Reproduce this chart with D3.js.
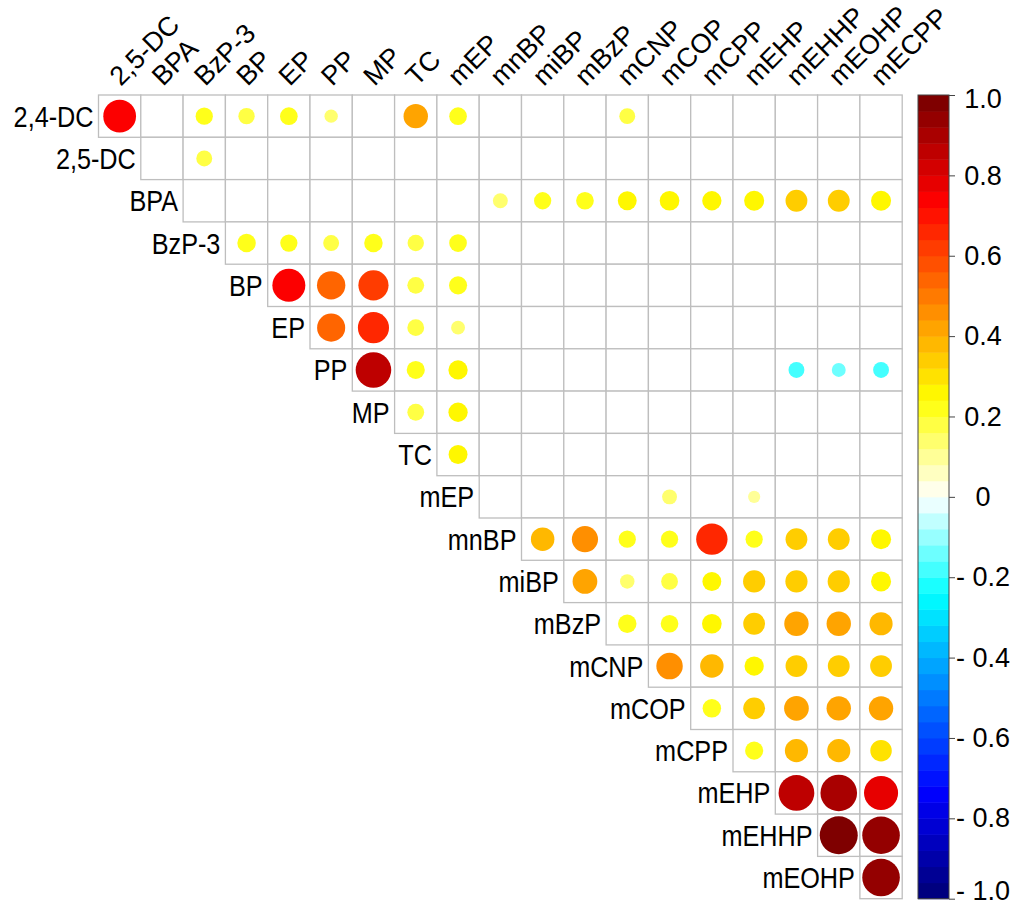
<!DOCTYPE html>
<html>
<head>
<meta charset="utf-8">
<script src="https://cdn.jsdelivr.net/npm/d3@7"></script>
<style>
  body { margin: 0; background: #fff; }
  text { font-family: "Liberation Sans", Arial, sans-serif; fill: #000; }
</style>
</head>
<body>
<div id="chart"></div>
<script>
// variables, in matrix order
var vars = ["2,4-DC", "2,5-DC", "BPA", "BzP-3", "BP", "EP", "PP", "MP", "TC", "mEP",
            "mnBP", "miBP", "mBzP", "mCNP", "mCOP", "mCPP", "mEHP", "mEHHP", "mEOHP", "mECPP"];

// upper triangle, row by row (columns after the diagonal); null = blank (not significant)
var corrRows = [
  [0.72, null, 0.20, 0.18, 0.21, 0.12, null, 0.40, 0.21, null, null, null, 0.17, null, null, null, null, null, null],
  [null, 0.17, null, null, null, null, null, null, null, null, null, null, null, null, null, null, null, null],
  [null, null, null, null, null, null, null, 0.15, 0.20, 0.21, 0.24, 0.26, 0.25, 0.27, 0.32, 0.32, 0.27],
  [0.23, 0.20, 0.17, 0.23, 0.18, 0.21, null, null, null, null, null, null, null, null, null, null],
  [0.73, 0.54, 0.61, 0.19, 0.22, null, null, null, null, null, null, null, null, null, null],
  [0.53, 0.65, 0.19, 0.13, null, null, null, null, null, null, null, null, null, null],
  [0.85, 0.22, 0.25, null, null, null, null, null, null, null, -0.17, -0.13, -0.17],
  [0.19, 0.25, null, null, null, null, null, null, null, null, null, null],
  [0.24, null, null, null, null, null, null, null, null, null, null],
  [null, null, null, null, 0.15, null, 0.10, null, null, null],
  [0.37, 0.46, 0.20, 0.20, 0.66, 0.20, 0.32, 0.32, 0.27],
  [0.41, 0.14, 0.19, 0.24, 0.33, 0.33, 0.33, 0.27],
  [0.23, 0.21, 0.26, 0.32, 0.40, 0.40, 0.36],
  [0.47, 0.37, 0.25, 0.32, 0.32, 0.32],
  [0.23, 0.32, 0.41, 0.40, 0.40],
  [0.22, 0.36, 0.36, 0.31],
  [0.86, 0.90, 0.78],
  [0.97, 0.95],
  [0.95]
];

var legendTicks = [1, 0.8, 0.6, 0.4, 0.2, 0, -0.2, -0.4, -0.6, -0.8, -1];
var paletteStops = ["#00007F", "blue", "#007FFF", "cyan", "white", "yellow", "#FF7F00", "red", "#7F0000"];
var nBins = 50;

var w = 1016, h = 909;
var gridLeft = 98.5, gridTop = 95, cell = 42.3;
var n = vars.length - 1;

var rowVars = vars.slice(0, n);
var colVars = vars.slice(1);

var svg = d3.select("#chart").append("svg")
  .attr("width", w)
  .attr("height", h);

var x = d3.scaleBand().domain(colVars).range([gridLeft, gridLeft + n * cell]);
var y = d3.scaleBand().domain(rowVars).range([gridTop, gridTop + n * cell]);

var ramp = d3.scaleLinear()
  .domain(d3.range(paletteStops.length).map(function(i) { return -1 + 2 * i / (paletteStops.length - 1); }))
  .range(paletteStops)
  .interpolate(d3.interpolateRgb);
var bins = d3.range(nBins).map(function(k) { return ramp(-1 + 2 * k / (nBins - 1)); });
var color = d3.scaleQuantize().domain([-1, 1]).range(bins);
var radius = d3.scaleSqrt().domain([0, 1]).range([0, cell * 0.456]);

// flatten
var cells = [];
corrRows.forEach(function(row, i) {
  row.forEach(function(v, k) {
    cells.push({ r: rowVars[i], c: colVars[i + k], v: v });
  });
});

svg.append("g").selectAll("rect")
  .data(cells)
  .enter().append("rect")
  .attr("x", function(d) { return x(d.c); })
  .attr("y", function(d) { return y(d.r); })
  .attr("width", x.bandwidth())
  .attr("height", y.bandwidth())
  .attr("fill", "#fff")
  .attr("stroke", "#bebebe")
  .attr("stroke-width", 1.3);

svg.append("g").selectAll("circle")
  .data(cells.filter(function(d) { return d.v !== null; }))
  .enter().append("circle")
  .attr("cx", function(d) { return x(d.c) + x.bandwidth() / 2; })
  .attr("cy", function(d) { return y(d.r) + y.bandwidth() / 2; })
  .attr("r", function(d) { return radius(Math.abs(d.v)); })
  .attr("fill", function(d) { return color(d.v); });

// row labels
svg.append("g").selectAll("text")
  .data(rowVars)
  .enter().append("text")
  .attr("transform", function(d, i) {
    return "translate(" + (x(colVars[i]) - 5) + "," + (y(d) + y.bandwidth() / 2) + ") scale(0.87,1)";
  })
  .attr("dy", "0.36em")
  .attr("text-anchor", "end")
  .style("font-size", "29px")
  .text(function(d) { return d; });

// column labels
svg.append("g").selectAll("text")
  .data(colVars)
  .enter().append("text")
  .attr("transform", function(d) {
    return "translate(" + (x(d) + x.bandwidth() / 2 + 1) + "," + (gridTop - 8) + ") rotate(-45)";
  })
  .style("font-size", "27px")
  .text(function(d) { return d; });

// colour legend
var barX = 918, barW = 31;
var ly = d3.scaleLinear().domain([-1, 1]).range([gridTop + n * cell, gridTop]);
var step = (ly(-1) - ly(1)) / nBins;

var legend = svg.append("g");
legend.selectAll("rect")
  .data(bins)
  .enter().append("rect")
  .attr("x", barX)
  .attr("y", function(d, k) { return ly(-1 + 2 * (k + 1) / nBins); })
  .attr("width", barW)
  .attr("height", step + 0.5)
  .attr("fill", function(d) { return d; });
legend.append("rect")
  .attr("x", barX)
  .attr("y", ly(1))
  .attr("width", barW)
  .attr("height", ly(-1) - ly(1))
  .attr("fill", "none")
  .attr("stroke", "#444")
  .attr("stroke-width", 1);

var axis = legend.append("g")
  .attr("transform", "translate(" + (barX + barW) + ",0)")
  .call(d3.axisRight(ly)
    .tickValues(legendTicks)
    .tickSize(6)
    .tickFormat(function(v) {
      if (v === 0) return "0";
      return (v < 0 ? "- " : "") + Math.abs(v).toFixed(1);
    }));
axis.select(".domain").remove();
axis.selectAll(".tick line").attr("stroke", "#444");
axis.selectAll(".tick text")
  .attr("x", 34)
  .attr("y", function(v) { return v === 1 ? 4 : (v === -1 ? -8 : 0); })
  .attr("text-anchor", "middle")
  .style("font-family", "'Liberation Sans', Arial, sans-serif")
  .style("font-size", "27px")
  .attr("fill", "#000");
</script>
</body>
</html>
